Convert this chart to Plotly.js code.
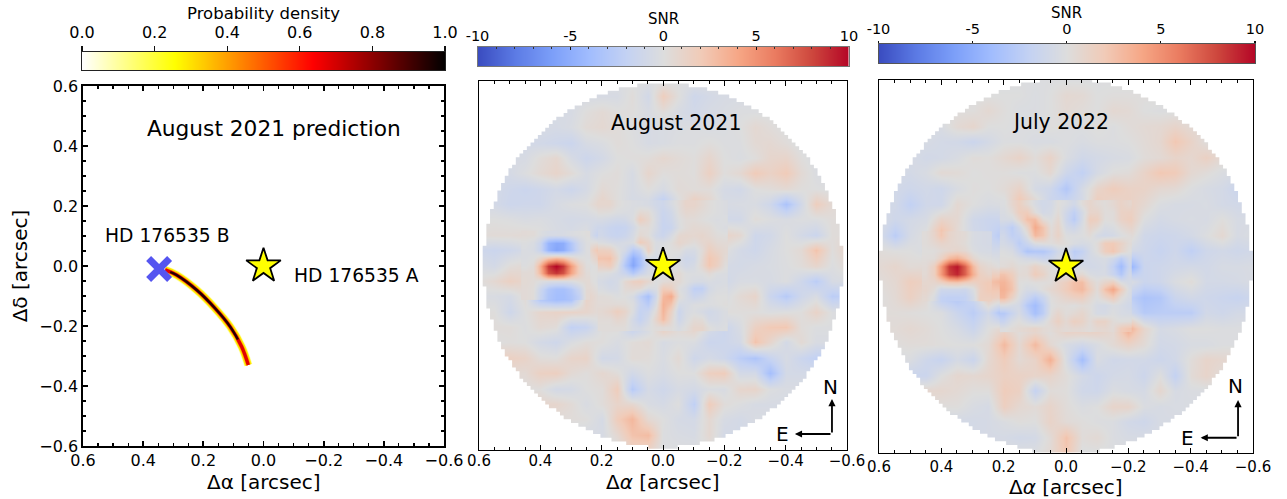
<!DOCTYPE html>
<html><head><meta charset="utf-8">
<script src="https://cdn.plot.ly/plotly-3.0.1.min.js"></script>
<style>html,body{margin:0;padding:0;background:#fff}#c{width:1287px;height:499px}</style>
</head><body><div id="c"></div>
<script>
const gridPos=[0.6,0.55,0.5,0.45,0.4,0.35,0.3,0.25,0.2,0.15,0.1,0.05,0,-0.05,-0.1,-0.15,-0.2,-0.25,-0.3,-0.35,-0.4,-0.45,-0.5,-0.55,-0.6];
const patchX=[0.45,0.425,0.4,0.375,0.35,0.325,0.3,0.275,0.25];
const patchY=[0.1,0.075,0.05,0.025,0,-0.025,-0.05,-0.075,-0.1];
const centerPos=[0.2,0.175,0.15,0.125,0.1,0.075,0.05,0.025,0,-0.025,-0.05,-0.075,-0.1,-0.125,-0.15,-0.175,-0.2];
const readingGain=1.3, readingBias=-0.15;
const snrAug2021=[
[0,0,0,0,0,0,0,0,0,0,0,0,0,0,0,0,0,0,0,0,0,0,0,0,0],
[-.3,-.3,-.3,-.3,-.3,-.3,-.3,-.3,-.3,-.3,.3,-.6,1.4,.2,-.8,-.5,-.3,-.3,-.3,-.3,-.3,-.3,-.3,-.3,-.3],
[-.3,-.3,-.3,-.3,-.3,-.3,-.3,.2,.5,.2,.2,-.2,.3,-.3,-.6,-.3,-.2,0,0,0,0,0,0,0,0],
[-.3,-.3,-.3,-.3,-.3,-.4,-.2,.4,.6,.3,0,-.3,-.2,-.1,0,-.2,-.1,.1,.6,.3,0,0,0,0,0],
[-.4,-.4,-.4,-.5,-.6,-.8,-1,-.3,-.1,.3,.1,-.3,-.2,0,0,.2,0,0,.5,.6,.3,-.1,-.2,-.2,-.2],
[-.3,-.3,-.3,-.3,.3,.7,-.3,-.9,-.5,.1,.2,.3,.7,.4,.2,.8,.1,-.1,.2,.8,.9,.2,-.2,-.2,-.2],
[-.4,-.4,-.4,0,.5,.9,.4,-.3,.1,.3,-.3,.8,.2,.3,.2,1.2,.2,.6,1.6,1.1,1.6,.5,-.1,-.3,-.3],
[-.5,-.5,-.8,-1,-.8,-.5,-.9,-.4,.5,.2,-.3,.2,-.3,.4,.3,.3,-.4,-.6,.1,.3,.5,.2,.1,0,0],
[-.5,-.5,-.9,-.8,-.8,-.3,0,.1,1,.2,-.4,-.5,-2,-.1,1.6,.8,-.3,-.2,-.2,-.8,-2.5,-.6,1.4,.5,0],
[.1,.1,0,-.2,-.1,-.3,-.5,-.4,-.3,-.1,1.5,-.2,-1.8,-.2,.3,0,-.6,-.6,.3,0,-.2,0,0,.3,.3],
[.3,.4,.4,.5,.2,-.2,-.3,.1,-1.8,-2,-.4,.8,-1.5,.8,1.2,1,1,.6,-.8,-.6,.1,-.5,-1,.3,.3],
[-.8,-1,-.8,-.4,-3,-6,-4.5,.2,2.5,-.6,-3.5,1.5,0,.3,-.6,1.8,.2,-.5,-.8,-.3,.1,.5,2,.2,1],
[-.2,-.5,.3,.5,2,8,3,-.2,.5,-1,-5.5,-1,0,0,-.5,1.2,-.4,-.5,-.3,-.2,0,.3,.8,0,.5],
[.2,.6,1.2,.8,-.2,-.8,-.5,.5,-.3,-1,1.2,1,.2,.8,-.4,-.6,-.7,-.2,-.2,-.3,0,-.8,-1.8,-.3,-.2],
[-.1,-.2,-.4,.4,-3,-4,-3.5,1,.2,-.3,.2,-3.5,3.5,-.3,-2,-.5,-.2,.5,.9,-1,-2,-.8,-.2,-1.8,-1.5],
[.2,.2,-.8,.1,.8,1,1,.8,.3,1.5,.3,-2.5,3,-2,-.2,-.4,.2,.2,.2,0,.1,.2,1,0,0],
[.3,.3,.3,0,.5,.3,-1.5,-1.2,.2,.3,-1.5,-.5,1.5,.5,1,-.3,-1,-.2,1.2,1.7,1.8,.3,0,0,0],
[.1,.1,.2,.1,-.5,-.8,-.1,.3,.2,-.2,.3,.5,-.3,0,-.1,-1,-.9,-.5,2,.8,-.5,.5,-.2,-.2,-.2],
[1.2,1.2,1.2,1,.3,.2,.9,1,-.6,-.5,.4,.3,-.2,.5,-.8,-.4,-.8,-1.8,-2.4,-1.2,-.3,-1,-1.5,-1.5,-1.5],
[.5,.5,.5,.5,1.2,1.3,.5,.2,.7,.3,-.6,0,-.3,.1,.1,1.3,1.5,-.5,-.5,-2.8,-.5,-.5,-.5,-.5,-.5],
[.2,.2,.2,.2,.2,-.5,-.4,.1,.3,1.5,-2,-.4,-.8,-.3,-.5,-.1,-.2,.8,.9,0,-.2,-.2,-.2,-.2,-.2],
[.8,.8,.8,.8,.8,.8,.4,-.2,.3,.9,.7,-.2,-.4,.1,-1.6,1.5,.3,0,-.3,-.3,-.3,-.3,-.3,-.3,-.3],
[.3,.3,.3,.3,.3,.3,.3,.2,-.4,1.5,2.5,.6,.1,-.4,-.5,.6,-.3,-.5,-.2,-.2,-.2,-.2,-.2,-.2,-.2],
[-.3,-.3,-.3,-.3,-.3,-.3,-.3,-.3,-.3,.6,2,2.3,0,-.2,-.3,.6,-.5,-.5,-.5,-.5,-.5,-.5,-.5,-.5,-.5],
[0,0,0,0,0,0,0,0,0,0,1,1,0,0,0,0,0,0,0,0,0,0,0,0,0]];
const blobAug2021=[
[.4,.3,-.2,-.6,-.6,-.5,-.3,-.1,.1],
[-.1,-.4,-1.5,-4.5,-5.2,-5,-3,-1,-.1],
[-.3,-.5,-1.6,-4.5,-5.5,-5,-3.2,-1.2,-.1],
[-.3,-.1,.8,2.2,3,2.4,1,.1,-.1],
[-.1,.4,3.5,8.5,10,8.5,4.5,1.5,.1],
[.4,.5,3,7.5,8.5,7.5,4,1.5,.3],
[.5,.3,-.1,-.3,-.4,-.4,-.2,.3,.5],
[.4,.2,-1.4,-3,-3.6,-3.6,-2.8,-1.4,.5],
[.4,.2,-1.6,-3.2,-3.8,-3.8,-3.2,-2,.6]];
const centerAug2021=[
[.8,.8,.2,-.1,-.3,-.4,-.5,-1,-1.2,-.5,.3,1,1,.6,.2,-.1,-.3],
[.2,.1,-.2,-.3,-.3,.6,.4,-.6,-1.5,-1,.2,.7,.6,.3,.1,-.1,-.3],
[-.6,-.8,-1,-.9,-.2,1.6,.8,-.5,-1.6,-1.2,-.1,.3,.3,.1,-.1,-.3,-.2],
[-1.2,-1.6,-1.8,-1.7,-.9,.2,.3,-.6,-1.7,-1.5,-.2,.3,.6,.5,.4,-.1,-.3],
[-1,-1.5,-1.7,-1.4,-.6,.6,.2,-1,-1.4,-.5,.7,.8,.7,.9,.6,.2,.1],
[-.2,-.5,-.7,-.5,-.3,1.8,1,-.3,-.3,.1,.9,.6,.2,.7,1,.5,.4],
[1.6,1.4,.1,-.8,-2.8,-2,1.4,-.4,0,0,.1,-.6,-.6,.3,1.6,1,.6],
[2.4,2.5,.8,-2.2,-5,-3.5,-.6,-.8,0,0,-.5,-1.2,-1,.6,2.2,1.6,.4],
[1.4,1.8,.1,-3,-5.5,-3.6,-1,-.6,0,0,-.3,-.9,-.6,.7,2.2,1.4,.1],
[-.1,-.3,-.7,-1.5,-2.8,-1.5,-.5,-.3,0,0,.5,-.1,-.2,-.1,.4,-.2,-.3],
[-.6,-1,-.7,.6,1.4,1.6,.8,-.1,.3,.6,.5,-.1,-.5,-.6,-.4,-.5,-.4],
[-.3,-.7,-.6,.4,.6,.5,-.5,-.3,1.8,1.5,-.1,-.6,-2.2,-2.2,-.8,-.3,-.2],
[.3,.2,-.1,0,-.5,-2.2,-3.6,-1,3,3.8,.3,-.5,-1.4,-1,-.3,0,0],
[.4,.4,.4,.3,-.1,-1.6,-2.6,-.3,3.4,2.4,-.7,-.6,-.2,-.1,-.2,-.1,.1],
[.6,1,1.6,1,-.2,-1.9,-1.4,.4,3.2,1.3,-1.4,-.5,-.2,-.6,-1,-.7,-.3],
[.3,.3,.8,.5,-.8,-1.9,-.8,1,2.8,.8,-1.2,-.3,.4,.3,-.7,-.7,-.3],
[.2,.2,.2,.2,-.6,-.8,-.2,.2,.3,.2,-.4,.1,.9,.9,.1,-.3,-.2]];
const snrJul2022=[
[0,0,0,0,0,0,0,0,0,0,0,0,0,0,0,0,0,0,0,0,0,0,0,0,0],
[.1,.1,.1,.1,.1,.1,.1,.1,.1,.1,-.1,.1,.6,.5,.1,.2,.2,.2,.2,.2,.2,.2,.2,.2,.2],
[.2,.2,.2,.2,.2,.2,.2,.6,.2,-.1,-.1,.1,.5,.3,.1,.6,.5,.1,0,0,0,0,0,0,0],
[-.2,-.2,-.2,-.2,-.2,.5,.8,.1,.1,0,0,.2,0,0,.2,0,.3,.5,.6,.9,.5,.5,.5,.5,.5],
[-.3,-.3,-.3,-.3,-.5,-.6,-1,-.5,0,0,-.2,-.2,0,-.2,0,0,.1,.4,.7,1.8,1,.2,.2,.2,.2],
[-.3,-.3,-.3,-.6,-.5,-.2,.3,.2,.6,1,.3,1,-.1,-.7,-.5,-.3,-.2,.3,.5,.9,.7,1.2,.5,.5,.5],
[-.4,-.4,-.5,-.2,.5,.4,.1,.2,.2,0,0,.6,-.8,-1.5,-.4,.2,.3,1,1.8,1.6,.6,.3,-.1,-.3,-.3],
[-.6,-.6,-.8,-.6,-.8,-.2,.2,.1,.4,1,-.4,-.8,-2.2,-.4,.9,1.5,1.1,1,.6,.5,0,-.3,-.5,-1,-1],
[-.6,-.6,-1.5,-.7,-.7,.6,.1,-.2,-.1,2,.8,-1,-.8,-.5,1.5,.7,1.2,.6,-.1,-.3,-.3,-.2,-.5,-.6,-.6],
[-.2,-.8,-.5,-.3,1,.6,-.7,-1,-1,1,3,.3,-2.2,-.6,1.8,.2,1.6,0,-.5,-.3,-.2,-.3,.2,-.3,-.3],
[-.3,-1.8,-.4,.2,2.4,.5,-.6,-1,-2.2,-2.3,3,.6,.6,-1,-.6,-.5,.7,-.7,-.9,-.8,-.5,0,.6,-.3,-.1],
[.3,.1,.1,-.2,.8,.9,-.3,-.6,-.5,-2.4,-3,-3,-.6,-2.5,.8,1.8,-.4,-.8,-1.2,-.8,-1.6,-.8,-.6,-.8,-.6],
[.5,.8,.4,.5,4,8.5,3,.6,0,-.3,1.6,.5,0,-.4,-1.5,-2.5,-4,-1,-.8,-.6,-.5,-.6,-.3,-.3,-.2],
[.3,.6,1.4,1.1,.3,.1,.9,2,2.6,.5,-1.2,.9,1.6,2.7,.3,3,.1,-1,-.8,-.1,.3,-.5,-.5,-.4,-.2],
[.1,.5,1.2,.5,-1.8,-2.2,-1,1.5,1,-.5,-3.8,.1,.3,2,-.2,-1,-1.5,-2.5,-2.2,-1,-.6,-.8,-1,-1.2,-.8],
[.3,.3,.2,.1,0,-1,-1.8,-.6,-3,-.8,-2.5,-.2,.1,.1,-.6,-.3,-.6,-2,-1.8,-1.8,-1.8,-.6,-.8,-.5,-.5],
[.4,.4,.6,.4,.1,-.3,-1,.1,.8,.2,.3,.1,1.4,1.5,1.4,.6,3,.8,-.4,-.2,.1,.1,0,0,0],
[.2,.2,.3,.3,.2,.1,.1,.5,2.4,.6,2.4,.6,-.3,-.7,-.2,.5,1,.4,-.6,-.5,-.2,-.2,0,0,0],
[-.1,-.1,-.1,-.8,-1.2,-.4,-1,.6,1.5,.5,1,2.8,-.2,-2.8,-.2,-.7,-.6,-.6,-.9,-.6,.3,.9,.7,.7,.7],
[-1,-1,-1,-1,.1,.7,.6,.8,1.2,1.1,.9,.9,.3,-.5,-.9,-.5,-.4,-.9,.1,-1.4,.4,.9,.3,.3,.3],
[.7,.7,.7,.7,.7,.5,.2,.2,1.5,1.2,-1.3,.3,.2,-.7,-.8,-.1,-.3,-.4,.7,-.3,-.1,-.1,-.1,-.1,-.1],
[.2,.2,.2,.2,.2,.2,-.2,-.4,1.3,.6,.4,.9,.3,-.1,.1,.9,.9,-.1,-.3,-.2,-.2,-.2,-.2,-.2,-.2],
[-.5,-.5,-.5,-.5,-.5,-.5,-.5,-.4,-.1,.2,.1,1,.4,.2,0,-.1,-.6,-.8,-.3,-.3,-.3,-.3,-.3,-.3,-.3],
[-.4,-.4,-.4,-.4,-.4,-.4,-.4,-.4,-.4,-.6,-.5,.4,2,.3,.5,-.1,-.3,-.3,-.3,-.3,-.3,-.3,-.3,-.3,-.3],
[0,0,0,0,0,0,0,0,0,0,0,.5,1.8,0,0,0,0,0,0,0,0,0,0,0,0]];
const blobJul2022=[
[.2,1,2.2,1,.6,.4,-.4,-.6,-.7],
[.2,.6,1,.8,.6,.3,-.4,-.6,-.7],
[.1,.1,.4,.7,.9,.6,-.2,-.5,-.6],
[.2,.3,1.3,3,3.6,2.5,.8,.1,-.1],
[.4,1.5,4.5,8.5,9.5,7,3,1,.5],
[.5,1.5,4.5,8,9,7,3.5,1.5,1],
[.8,.8,1.3,2,2.2,1.6,1.3,1.6,2],
[.9,.3,-1.2,-1.2,-1.2,-1.3,-.3,1.4,2],
[.6,-.3,-2,-2.2,-2.2,-2,-.8,1.5,1.5]];
const centerJul2022=[
[-.2,.8,1.5,.6,-.4,-1,-.8,.1,-.3,-1,.2,.9,.5,.2,.6,1.2,.8],
[-.4,.3,1.6,1.8,.2,-.8,-.6,.3,-1,-2.2,-.7,1,1,.2,.2,1.3,1.4],
[-.6,-.5,.8,2.6,2.8,.4,-.2,.7,-1.2,-2.6,-.7,1.7,1.5,.1,.2,1.2,1.6],
[-1.5,-2.4,-1,1,3.8,2.4,.2,1,-.7,-1.2,-.3,1,.5,-.5,-.3,.4,.9],
[-1,-2.2,-1.8,-.1,3,2.3,.3,1.2,-.1,-.2,-.1,.3,-.6,-1,-.8,-.2,.2],
[-.7,-1.2,-2.5,-1.5,-.2,.1,.1,.4,.2,-.3,-.6,-.4,.2,1.8,2,1.2,.3],
[-.1,-.4,-1.6,-3.2,-3,-3,-2.2,-1,-.5,-2.5,-2,-.7,.1,1.6,2.2,1,0],
[.1,.1,-.3,-.7,-1,-1.4,-1.2,-.4,0,-2,-1.4,-.8,-.6,-.4,-1,-2.4,-.9],
[.3,.6,.2,.4,1.2,.6,.1,0,0,-.4,-.6,-.9,-.8,-.6,-2,-4,-1.5],
[2.4,1.6,.4,.5,1.8,1.2,.1,.2,0,.5,.6,-.3,-.5,-.5,-1.5,-3,-.9],
[3.2,2.2,.1,-.1,.1,.1,.2,1,1.6,2.6,2.8,1,.2,1,1.6,-.2,-.7],
[3.4,2.4,.2,-.6,-.5,.2,.7,1.1,1.8,2.6,3,1.6,.3,2.6,4,1.8,-.4],
[3,1.3,-.2,-1.5,-2.5,-1.5,.1,.5,1,1.4,1.6,.6,0,1,1.9,.3,-.6],
[-.2,-.6,-.8,-2.8,-3.9,-2.4,-.1,.2,.2,0,.3,.1,-.6,-.8,-.3,-.5,-1],
[-2.8,-1.6,-.6,-2,-3.6,-2.4,.1,.9,.2,.5,.9,.2,-.6,-.6,-.1,-.5,-.6],
[-1.6,-.4,.1,-.6,-1.2,-.5,.6,1.4,.6,1.5,1.2,.3,1.2,1.2,.3,.1,.2],
[-.1,.3,.5,.7,1,.5,.3,.7,.4,.6,.5,.2,.6,.7,.4,1.8,2.3]];
const arcX=[0.327,0.289,0.222,0.161,0.111,0.0725,0.0505];
const arcY=[-0.013,-0.03,-0.08,-0.141,-0.202,-0.269,-0.33];
const coreX=[0.31,0.289,0.222,0.161,0.111,0.085];
const coreY=[-0.02,-0.03,-0.08,-0.141,-0.202,-0.245];
const companionX=[0.347], companionY=[-0.01];
const starX=[0], starY=[0];
const probTicks=[0,0.2,0.4,0.6,0.8,1];
const probLabels=['0.0','0.2','0.4','0.6','0.8','1.0'];
const probRamp=[0,0.25,0.5,0.75,1];
const snrTicks=[-10,-5,0,5,10];
const snrLabels=['-10','-5','0','5','10'];
const snrRamp=[-10,-5,0,5,10];
const xTicks=[0.6,0.4,0.2,0,-0.2,-0.4,-0.6];
const xTickLabels=['0.6','0.4','0.2','0.0','\u22120.2','\u22120.4','\u22120.6'];
const coolwarm=[[0,'rgb(58,76,192)'],[.1,'rgb(92,123,229)'],[.2,'rgb(124,159,249)'],[.3,'rgb(162,189,254)'],[.4,'rgb(196,210,243)'],[.5,'rgb(221,221,221)'],[.6,'rgb(241,203,184)'],[.7,'rgb(246,167,134)'],[.8,'rgb(234,123,96)'],[.9,'rgb(205,70,61)'],[1,'rgb(180,4,38)']];
const hotR=[[0,'#ffffff'],[.254,'#ffff00'],[.635,'#ff0000'],[1,'#000000']];
const W=1287,H=499,FONT='"DejaVu Sans", sans-serif';
const dx=(a,b)=>[a/W,b/W], dy=(t,b)=>[1-b/H,1-t/H];
const calibrate=z=>z.map(r=>r.map(v=>v*readingGain+readingBias));

function maskPoly(r){
  const p=0.012,right=[];
  for(let y=r;y>-r;y-=p){
    const h=Math.floor(Math.sqrt(Math.max(0,r*r-Math.pow(Math.abs(y-p/2),2)))/p)*p;
    right.push([h,y],[h,y-p]);
  }
  const left=right.slice().reverse().map(q=>[-q[0],q[1]]);
  const ring=right.concat(left); ring.push(right[0]);
  const xs=[0.7,-0.7,-0.7,0.7,0.7,right[0][0]], ys=[0.7,0.7,-0.7,-0.7,0.7,right[0][1]];
  ring.forEach(q=>{xs.push(q[0]);ys.push(q[1]);});
  xs.push(0.7);ys.push(0.7);
  return {xs,ys};
}
function hm(x,y,z,ax){return {type:'heatmap',x:x,y:y,z:z,zmin:-10,zmax:10,colorscale:coolwarm,zsmooth:'best',showscale:false,xaxis:'x'+ax,yaxis:'y'+ax,hoverinfo:'skip'};}
function snrPanel(z,center,blob,ax,r){
  const m=maskPoly(r);
  return [
    hm(gridPos,gridPos,calibrate(z),ax),
    hm(centerPos,centerPos,center,ax),
    hm(patchX,patchY,blob,ax),
    {type:'scatter',mode:'lines',x:m.xs,y:m.ys,fill:'toself',fillcolor:'#fff',line:{width:0},xaxis:'x'+ax,yaxis:'y'+ax,hoverinfo:'skip'},
    starTrace(ax)
  ];
}
function starTrace(ax){return {type:'scatter',mode:'markers',x:starX,y:starY,xaxis:'x'+ax,yaxis:'y'+ax,marker:{symbol:'star',size:26,color:'#ffff00',line:{color:'#000',width:1.8}},hoverinfo:'skip'};}
function arcTrace(x,y,c,w){return {type:'scatter',mode:'lines',x:x,y:y,xaxis:'x',yaxis:'y',line:{color:c,width:w,shape:'spline'},hoverinfo:'skip'};}
function barTrace(ramp,scale,ax,lo,hi){return {type:'heatmap',x:ramp,y:[0,1],z:[ramp,ramp],zmin:lo,zmax:hi,colorscale:scale,zsmooth:'best',showscale:false,xaxis:'x'+ax,yaxis:'y'+ax,hoverinfo:'skip'};}

const data=[
  arcTrace(arcX,arcY,'#ffffb0',8.5),arcTrace(arcX,arcY,'#ffee00',7),arcTrace(arcX,arcY,'#ff9a00',4.6),arcTrace(arcX,arcY,'#e00000',3.3),arcTrace(coreX,coreY,'#200000',2.4),
  {type:'scatter',mode:'markers',x:companionX,y:companionY,xaxis:'x',yaxis:'y',marker:{symbol:'x-thin',size:21,line:{color:'#5555f0',width:7}},hoverinfo:'skip'},
  starTrace(''),
  ...snrPanel(snrAug2021,centerAug2021,blobAug2021,'2',0.592),
  ...snrPanel(snrJul2022,centerJul2022,blobJul2022,'3',0.602),
  barTrace(probRamp,hotR,'4',0,1),
  barTrace(snrRamp,coolwarm,'5',-10,10),
  barTrace(snrRamp,coolwarm,'6',-10,10)
];

function mapX(dom,y,size,lw,tw,mw,standoff){return {domain:dom,anchor:y,range:[0.6,-0.6],tickmode:'array',tickvals:xTicks,ticktext:xTickLabels,ticks:'inside',ticklen:5,tickwidth:tw,tickcolor:'#000',mirror:'allticks',showline:true,linecolor:'#000',linewidth:lw,showgrid:false,zeroline:false,ticklabelstandoff:standoff,tickfont:{family:FONT,size:size,color:'#000'},minor:{ticks:'inside',ticklen:3,tickwidth:mw,tickmode:'linear',tick0:0,dtick:0.05,tickcolor:'#000',showgrid:false},automargin:false};}
function mapY(dom,x,lw){return {domain:dom,anchor:x,range:[-0.6,0.6],showticklabels:false,ticks:'',mirror:true,showline:true,linecolor:'#000',linewidth:lw,showgrid:false,zeroline:false,automargin:false};}
function barX(dom,y,vals,labels,rng,size,ticks,len,col,minorD,standoff){
  const a={domain:dom,anchor:y,side:'top',range:rng,tickmode:'array',tickvals:vals,ticktext:labels,ticks:ticks,ticklen:len,tickwidth:1.2,tickcolor:'#111',ticklabelstandoff:standoff,tickfont:{family:FONT,size:size,color:'#000'},showline:true,mirror:true,linecolor:col,linewidth:1,showgrid:false,zeroline:false,automargin:false};
  if(minorD) a.minor={ticks:ticks,ticklen:2,tickwidth:1,tickmode:'linear',tick0:0,dtick:minorD,tickcolor:'#333',showgrid:false};
  return a;
}
function barY(dom,x,col){return {domain:dom,anchor:x,range:[0,1],showticklabels:false,ticks:'',showline:true,mirror:true,linecolor:col,linewidth:1,showgrid:false,zeroline:false,automargin:false};}

const x1=mapX(dx(83,444),'y',16,1.7,1.7,1.2,-1);
const y1=Object.assign(mapY(dy(86,446),'x',1.7),{showticklabels:true,ticks:'inside',ticklen:5,tickwidth:1.7,mirror:'allticks',tickcolor:'#000',tickmode:'array',tickvals:xTicks,ticktext:xTickLabels,tickfont:{family:FONT,size:16,color:'#000'},minor:{ticks:'inside',ticklen:3,tickwidth:1.2,tickmode:'linear',tick0:0,dtick:0.05,tickcolor:'#000',showgrid:false},title:{text:'\u0394\u03b4 [arcsec]',font:{family:FONT,size:20,color:'#000'},standoff:6}});

function note(xr,yr,x,y,t,s){return {xref:xr,yref:yr,x:x,y:y,xanchor:'center',yanchor:'middle',text:t,showarrow:false,font:{family:FONT,size:s,color:'#000'}};}
function arrow(ax,x,y,x0,y0){return {xref:'x'+ax,yref:'y'+ax,axref:'x'+ax,ayref:'y'+ax,x:x,y:y,ax:x0,ay:y0,text:'',arrowhead:2,arrowsize:0.8,arrowwidth:1.8,arrowcolor:'#000'};}

const layout={
  width:W,height:H,margin:{l:0,r:0,t:0,b:0},paper_bgcolor:'#fff',plot_bgcolor:'#fff',showlegend:false,font:{family:FONT,color:'#000'},
  xaxis:x1,yaxis:y1,
  xaxis2:mapX(dx(479,847),'y2',15,1,1,1,-3),yaxis2:mapY(dy(81,450),'x2',1),
  xaxis3:mapX(dx(879,1253),'y3',15,1,1,1,0),yaxis3:mapY(dy(79.5,453),'x3',1),
  xaxis4:barX(dx(82,445),'y4',probTicks,probLabels,[0,1],16,'outside',5,'#222',0,2),yaxis4:barY(dy(52,70),'x4','#222'),
  xaxis5:barX(dx(477.5,849),'y5',snrTicks,snrLabels,[-10,10],14.5,'inside',3,'#777',1,-1),yaxis5:barY(dy(47,66),'x5','#777'),
  xaxis6:barX(dx(878.5,1255),'y6',snrTicks,snrLabels,[-10,10],14.5,'outside',2,'#555',0,1),yaxis6:barY(dy(44,63),'x6','#555'),
  annotations:[
    note('x4','paper',0.5,1-13.5/H,'Probability density',16.5),
    note('x5','paper',0,1-19.5/H,'SNR',15),
    note('x6','paper',0,1-13/H,'SNR',15),
    note('x','paper',0,1-482/H,'\u0394\u03b1 [arcsec]',20),
    note('x2','paper',0,1-482/H,'\u0394<i>\u03b1</i> [arcsec]',20),
    note('x3','paper',0,1-487/H,'\u0394<i>\u03b1</i> [arcsec]',20),
    note('x','y',-0.035,0.457,'August 2021 prediction',21.7),
    note('x','y',0.32,0.1,'HD 176535 B',18.7),
    note('x','y',-0.31,-0.03,'HD 176535 A',18.7),
    note('x2','y2',-0.042,0.465,'August 2021',20.5),
    note('x3','y3',0.017,0.465,'July 2022',20.4),
    arrow('2',-0.551,-0.434,-0.551,-0.548),
    arrow('2',-0.43,-0.548,-0.551,-0.548),
    arrow('3',-0.552,-0.43,-0.552,-0.551),
    arrow('3',-0.432,-0.551,-0.552,-0.551),
    note('x2','y2',-0.545,-0.396,'N',20),
    note('x2','y2',-0.39,-0.548,'E',20),
    note('x3','y3',-0.545,-0.385,'N',20),
    note('x3','y3',-0.39,-0.551,'E',20)
  ]
};
Plotly.newPlot('c',data,layout,{displayModeBar:false,staticPlot:true});
</script></body></html>
